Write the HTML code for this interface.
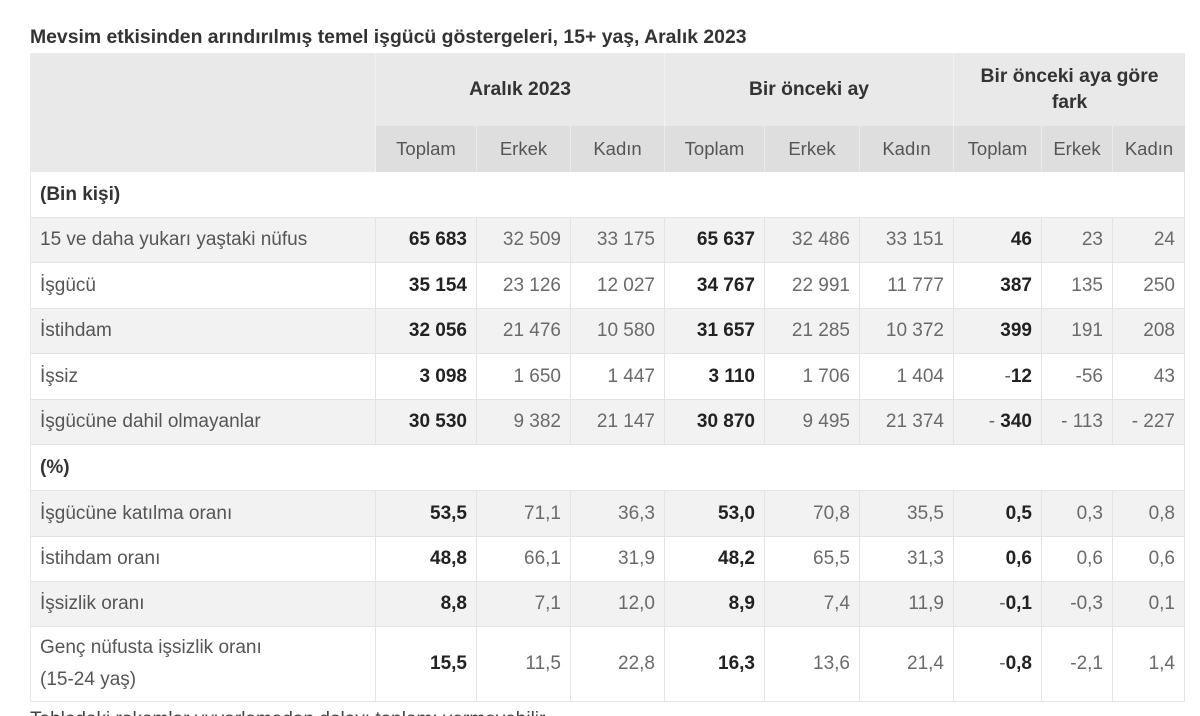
<!DOCTYPE html>
<html>
<head>
<meta charset="utf-8">
<style>
html,body{margin:0;padding:0;background:#fff;overflow:hidden;width:1200px;height:716px;}
#wrap{width:1200px;height:716px;overflow:hidden;position:relative;font-family:"Liberation Sans",Arial,sans-serif;}
.title{position:absolute;left:30px;top:26px;font-size:19.4px;font-weight:bold;color:#333;white-space:nowrap;}
.grid{position:absolute;left:30px;top:53px;display:grid;
 grid-template-columns:346px 101px 94px 94px 100px 95px 94px 88px 71px 72px;
 grid-template-rows:73px 46px 46px 45px 46px 45px 46px 45px 46px 46px 45px 45px 75px;}
.c{box-sizing:border-box;border-right:1px solid #e4e4e4;border-bottom:1px solid #e4e4e4;display:flex;align-items:center;justify-content:flex-end;padding-right:9px;font-size:19px;color:#6a6a6a;white-space:nowrap;}
.g{background:#f2f2f2;}
.w{background:#fff;}
.l{justify-content:flex-start;padding-left:9px;padding-right:0;color:#555;}
.b{font-weight:bold;color:#222;}
.h1{background:#e9e9e9;border-right:1px solid #f2f2f2;border-bottom:none;justify-content:center;padding:0;font-weight:bold;color:#333;font-size:19.3px;text-align:center;line-height:26px;white-space:normal;}
.h2{background:#dedede;border-right:1px solid #ebebeb;border-bottom:none;justify-content:center;padding:0;color:#555;font-size:18.5px;}
.sec{grid-column:1 / span 10;justify-content:flex-start;padding-left:9px;font-weight:bold;color:#333;background:#fff;}
.first{border-left:1px solid #e8e8e8;}
.foot{position:absolute;left:30px;top:709px;font-size:19px;color:#444;white-space:nowrap;}
</style>
</head>
<body>
<div id="wrap">
<div class="title">Mevsim etkisinden arındırılmış temel işgücü göstergeleri, 15+ yaş, Aralık 2023</div>
<div class="grid">
 <div class="c h1" style="grid-column:1;grid-row:1 / span 2;"></div>
 <div class="c h1" style="grid-column:2 / span 3;grid-row:1;">Aralık 2023</div>
 <div class="c h1" style="grid-column:5 / span 3;grid-row:1;">Bir önceki ay</div>
 <div class="c h1" style="grid-column:8 / span 3;grid-row:1;border-right:none;padding:0 12px;">Bir önceki aya göre fark</div>
 <div class="c h2" style="grid-column:2;grid-row:2;">Toplam</div>
 <div class="c h2" style="grid-column:3;grid-row:2;">Erkek</div>
 <div class="c h2" style="grid-column:4;grid-row:2;">Kadın</div>
 <div class="c h2" style="grid-column:5;grid-row:2;">Toplam</div>
 <div class="c h2" style="grid-column:6;grid-row:2;">Erkek</div>
 <div class="c h2" style="grid-column:7;grid-row:2;">Kadın</div>
 <div class="c h2" style="grid-column:8;grid-row:2;">Toplam</div>
 <div class="c h2" style="grid-column:9;grid-row:2;">Erkek</div>
 <div class="c h2" style="grid-column:10;grid-row:2;border-right:none;">Kadın</div>

 <div class="c sec first">(Bin kişi)</div>

 <div class="c g l first">15 ve daha yukarı yaştaki nüfus</div>
 <div class="c g b">65 683</div><div class="c g">32 509</div><div class="c g">33 175</div>
 <div class="c g b">65 637</div><div class="c g">32 486</div><div class="c g">33 151</div>
 <div class="c g b">46</div><div class="c g">23</div><div class="c g">24</div>

 <div class="c w l first">İşgücü</div>
 <div class="c w b">35 154</div><div class="c w">23 126</div><div class="c w">12 027</div>
 <div class="c w b">34 767</div><div class="c w">22 991</div><div class="c w">11 777</div>
 <div class="c w b">387</div><div class="c w">135</div><div class="c w">250</div>

 <div class="c g l first">İstihdam</div>
 <div class="c g b">32 056</div><div class="c g">21 476</div><div class="c g">10 580</div>
 <div class="c g b">31 657</div><div class="c g">21 285</div><div class="c g">10 372</div>
 <div class="c g b">399</div><div class="c g">191</div><div class="c g">208</div>

 <div class="c w l first">İşsiz</div>
 <div class="c w b">3 098</div><div class="c w">1 650</div><div class="c w">1 447</div>
 <div class="c w b">3 110</div><div class="c w">1 706</div><div class="c w">1 404</div>
 <div class="c w b"><span style="font-weight:normal;color:#666">-</span>12</div><div class="c w">-56</div><div class="c w">43</div>

 <div class="c g l first">İşgücüne dahil olmayanlar</div>
 <div class="c g b">30 530</div><div class="c g">9 382</div><div class="c g">21 147</div>
 <div class="c g b">30 870</div><div class="c g">9 495</div><div class="c g">21 374</div>
 <div class="c g b"><span style="font-weight:normal;color:#666">-&nbsp;</span>340</div><div class="c g">- 113</div><div class="c g">- 227</div>

 <div class="c sec first">(%)</div>

 <div class="c g l first">İşgücüne katılma oranı</div>
 <div class="c g b">53,5</div><div class="c g">71,1</div><div class="c g">36,3</div>
 <div class="c g b">53,0</div><div class="c g">70,8</div><div class="c g">35,5</div>
 <div class="c g b">0,5</div><div class="c g">0,3</div><div class="c g">0,8</div>

 <div class="c w l first">İstihdam oranı</div>
 <div class="c w b">48,8</div><div class="c w">66,1</div><div class="c w">31,9</div>
 <div class="c w b">48,2</div><div class="c w">65,5</div><div class="c w">31,3</div>
 <div class="c w b">0,6</div><div class="c w">0,6</div><div class="c w">0,6</div>

 <div class="c g l first">İşsizlik oranı</div>
 <div class="c g b">8,8</div><div class="c g">7,1</div><div class="c g">12,0</div>
 <div class="c g b">8,9</div><div class="c g">7,4</div><div class="c g">11,9</div>
 <div class="c g b"><span style="font-weight:normal;color:#666">-</span>0,1</div><div class="c g">-0,3</div><div class="c g">0,1</div>

 <div class="c w l first" style="white-space:normal;line-height:32px;">Genç nüfusta işsizlik oranı<br>(15-24 yaş)</div>
 <div class="c w b">15,5</div><div class="c w">11,5</div><div class="c w">22,8</div>
 <div class="c w b">16,3</div><div class="c w">13,6</div><div class="c w">21,4</div>
 <div class="c w b"><span style="font-weight:normal;color:#666">-</span>0,8</div><div class="c w">-2,1</div><div class="c w">1,4</div>
</div>
<div class="foot">Tablodaki rakamlar yuvarlamadan dolayı toplamı vermeyebilir.</div>
</div>
</body>
</html>
